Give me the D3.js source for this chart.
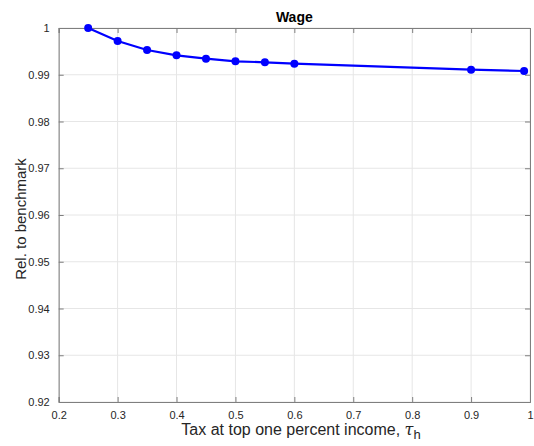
<!DOCTYPE html>
<html><head><meta charset="utf-8">
<script src="https://cdn.jsdelivr.net/npm/d3@7"></script>
<style>body{margin:0;background:#fff}svg{display:block;font-family:"Helvetica","Liberation Sans",Arial,sans-serif}</style>
</head><body>
<svg id="c" width="534" height="446"></svg>
<script>
const taxRates = [0.25, 0.3, 0.35, 0.4, 0.45, 0.5, 0.55, 0.6, 0.9, 0.99];
const wageRel = [1.0, 0.9972, 0.99529, 0.99416, 0.99344, 0.99287, 0.99266, 0.99237, 0.99108, 0.9908];
const xTicks = [0.2, 0.3, 0.4, 0.5, 0.6, 0.7, 0.8, 0.9, 1];
const yTicks = [0.92, 0.93, 0.94, 0.95, 0.96, 0.97, 0.98, 0.99, 1];
const titleText = "Wage";
const yLabel = "Rel. to benchmark";

const svg = d3.select("#c");
const L = 58.7, R = 530, T = 28, B = 402;
const x = d3.scaleLinear().domain([0.2, 1]).range([L, R]);
const y = d3.scaleLinear().domain([0.92, 1]).range([B, T]);
const axisCol = "#7f7f7f";

// grid
svg.append("g").selectAll("line").data(xTicks).join("line")
  .attr("x1", d => x(d)).attr("x2", d => x(d)).attr("y1", T).attr("y2", B)
  .attr("stroke", "#e6e6e6").attr("stroke-width", 1);
svg.append("g").selectAll("line").data(yTicks).join("line")
  .attr("x1", L).attr("x2", R).attr("y1", d => y(d)).attr("y2", d => y(d))
  .attr("stroke", "#e6e6e6").attr("stroke-width", 1);

// axes
const fmt = d => d3.format("")(+d.toFixed(2));
const gx = svg.append("g").attr("transform", `translate(0,${B})`)
  .call(d3.axisBottom(x).tickValues(xTicks).tickSize(-5).tickPadding(9).tickFormat(fmt));
const gxt = svg.append("g").attr("transform", `translate(0,${T})`)
  .call(d3.axisTop(x).tickValues(xTicks).tickSize(-5).tickFormat(""));
const gy = svg.append("g").attr("transform", `translate(${L},0)`)
  .call(d3.axisLeft(y).tickValues(yTicks).tickSize(-5).tickPadding(9).tickFormat(fmt));
const gyr = svg.append("g").attr("transform", `translate(${R},0)`)
  .call(d3.axisRight(y).tickValues(yTicks).tickSize(-5).tickFormat(""));
[gx, gxt, gy, gyr].forEach(g => {
  g.selectAll("path").attr("stroke", axisCol).attr("stroke-width", 1);
  g.selectAll("line").attr("stroke", axisCol);
  g.selectAll("text").attr("fill", "#262626").style("font-size", "11px")
    .style("font-family", "Helvetica, 'Liberation Sans', Arial, sans-serif");
});

// line
const line = d3.line().x((d, i) => x(taxRates[i])).y(d => y(d));
svg.append("path").datum(wageRel).attr("d", line)
  .attr("fill", "none").attr("stroke", "#0000ff").attr("stroke-width", 2.2);
svg.append("g").selectAll("circle").data(wageRel).join("circle")
  .attr("cx", (d, i) => x(taxRates[i])).attr("cy", d => y(d)).attr("r", 4)
  .attr("fill", "#0000ff");

// title
svg.append("text").attr("x", (L + R) / 2).attr("y", 22).attr("text-anchor", "middle")
  .attr("font-weight", "bold").attr("font-size", 14).attr("fill", "#000").text(titleText);

// x label
const xl = svg.append("text").attr("x", 301).attr("y", 435).attr("text-anchor", "middle")
  .attr("font-size", 16).attr("fill", "#262626");
xl.append("tspan").text("Tax at top one percent income, ");
xl.append("tspan").attr("font-family", "'DejaVu Serif', 'Liberation Serif', serif").attr("font-style", "italic").text("τ");
xl.append("tspan").attr("dy", 4).attr("font-size", 13).text("h");

// y label
svg.append("text").attr("transform", `translate(26,219) rotate(-90)`)
  .attr("text-anchor", "middle").attr("font-size", 15).attr("fill", "#262626").text(yLabel);
</script>
</body></html>
